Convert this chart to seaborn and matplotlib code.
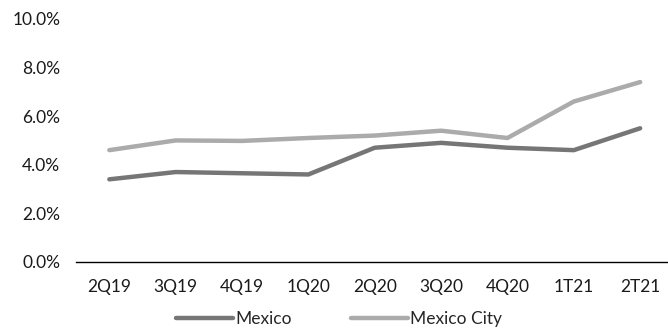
import matplotlib
matplotlib.use("Agg")
import matplotlib.pyplot as plt
import seaborn as sns
import pandas as pd

quarters = ["2Q19", "3Q19", "4Q19", "1Q20", "2Q20", "3Q20", "4Q20", "1T21", "2T21"]
mexico = [3.4, 3.7, 3.65, 3.6, 4.7, 4.9, 4.7, 4.6, 5.5]
mexico_city = [4.6, 5.0, 4.98, 5.1, 5.2, 5.4, 5.1, 6.6, 7.4]
y_ticks = [0, 2, 4, 6, 8, 10]

sns.set_theme(style="white")
plt.rcParams["font.family"] = ["Lato", "DejaVu Sans"]

df = pd.DataFrame({
    "quarter": quarters * 2,
    "value": mexico + mexico_city,
    "series": ["Mexico"] * len(quarters) + ["Mexico City"] * len(quarters),
})

fig = plt.figure(figsize=(6.68, 3.31), dpi=100)
ax = fig.add_axes([0.114, 0.2085, 0.886, 0.7345])

palette = {"Mexico": "#767676", "Mexico City": "#ABABAB"}
sns.lineplot(data=df, x="quarter", y="value", hue="series", palette=palette,
             linewidth=3.2, ax=ax, sort=False, legend=True)
for line in ax.lines:
    line.set_solid_capstyle("round")
    line.set_solid_joinstyle("round")

ax.set_xlim(-0.5, 8.42)
ax.set_ylim(0, 10)
ax.set_yticks(y_ticks)
ax.set_yticklabels([f"{v:.1f}%" for v in y_ticks])
ax.set_xlabel("")
ax.set_ylabel("")
ax.tick_params(axis="both", length=0, labelsize=12.5, colors="#1a1a1a")
ax.tick_params(axis="x", pad=12)
ax.tick_params(axis="y", pad=11.5)

for side in ["top", "right", "left"]:
    ax.spines[side].set_visible(False)
ax.spines["bottom"].set_color("#000000")
ax.spines["bottom"].set_linewidth(1.0)

handles, labels = ax.get_legend_handles_labels()
leg = ax.legend(handles, labels, loc="center", bbox_to_anchor=(0.444, -0.235),
                ncol=2, frameon=False, fontsize=12.5, handlelength=3.3,
                handletextpad=0.1, columnspacing=3.4)
for h in leg.get_lines():
    h.set_linewidth(3.2)
    h.set_solid_capstyle("round")

fig.savefig("out.png", dpi=100)
